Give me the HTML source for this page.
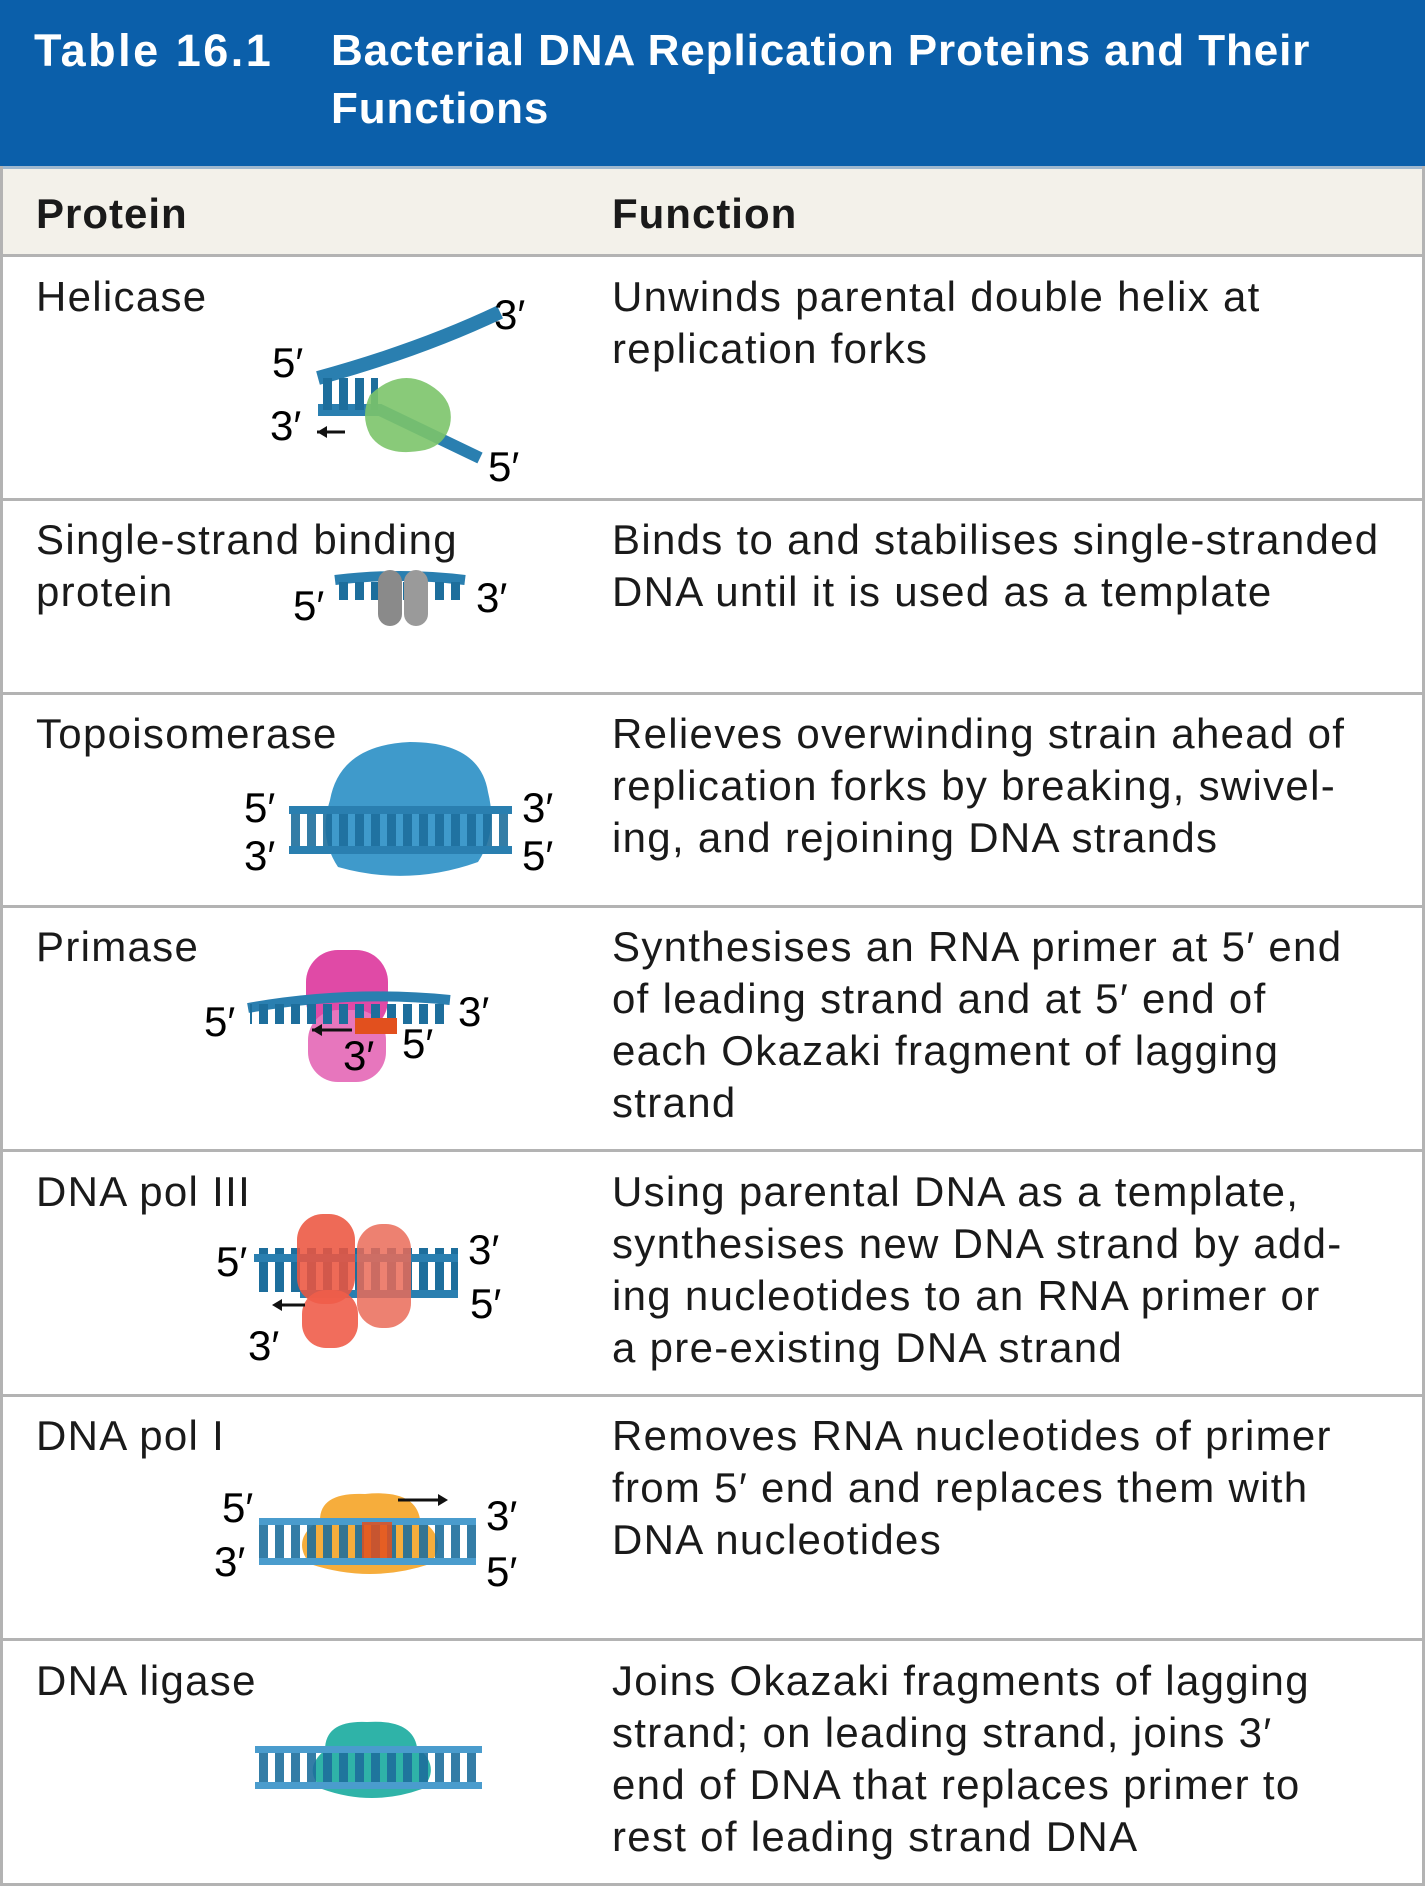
<!DOCTYPE html>
<html><head><meta charset="utf-8">
<style>
body{margin:0;width:1425px;height:1887px;background:#fff;position:relative;overflow:hidden;font-family:"Liberation Sans",sans-serif;color:#1a1a1a}
.a{position:absolute}
.t{position:absolute;font-size:42px;line-height:52px;white-space:nowrap;letter-spacing:1.3px}
.hl{position:absolute;left:0;width:1425px;height:3px;background:#b3b3b3}
</style></head><body>
<div class="a" style="left:0;top:0;width:1425px;height:166px;background:#0b5faa"></div>
<div class="a" style="left:34px;top:22px;font-size:45px;font-weight:bold;color:#fff;line-height:58px;letter-spacing:2.5px">Table 16.1</div>
<div class="a" style="left:331px;top:22px;font-size:44px;font-weight:bold;color:#fff;line-height:58px;letter-spacing:0.9px">Bacterial DNA Replication Proteins and Their<br>Functions</div>
<div class="a" style="left:0;top:166px;width:1425px;height:88px;background:#f3f1ea;border-top:3px solid #9fb8cf"></div>
<div class="t" style="left:36px;top:188px;font-weight:bold;letter-spacing:1px">Protein</div>
<div class="t" style="left:612px;top:188px;font-weight:bold;letter-spacing:1px">Function</div>
<div class="hl" style="top:254px"></div>
<div class="hl" style="top:498px"></div>
<div class="hl" style="top:692px"></div>
<div class="hl" style="top:905px"></div>
<div class="hl" style="top:1149px"></div>
<div class="hl" style="top:1394px"></div>
<div class="hl" style="top:1638px"></div>
<div class="hl" style="top:1883px"></div>
<div class="a" style="left:0;top:166px;width:3px;height:1720px;background:#b3b3b3"></div>
<div class="a" style="left:1422px;top:166px;width:3px;height:1720px;background:#b3b3b3"></div>

<div class="t" style="left:36px;top:271px">Helicase</div>
<div class="t" style="left:612px;top:271px">Unwinds parental double helix at<br>replication forks</div>
<div class="t" style="left:36px;top:514px">Single-strand binding<br>protein</div>
<div class="t" style="left:612px;top:514px">Binds to and stabilises single-stranded<br>DNA until it is used as a template</div>
<div class="t" style="left:36px;top:708px">Topoisomerase</div>
<div class="t" style="left:612px;top:708px">Relieves overwinding strain ahead of<br>replication forks by breaking, swivel-<br>ing, and rejoining DNA strands</div>
<div class="t" style="left:36px;top:921px">Primase</div>
<div class="t" style="left:612px;top:921px">Synthesises an RNA primer at 5′ end<br>of leading strand and at 5′ end of<br>each Okazaki fragment of lagging<br>strand</div>
<div class="t" style="left:36px;top:1166px">DNA pol III</div>
<div class="t" style="left:612px;top:1166px">Using parental DNA as a template,<br>synthesises new DNA strand by add-<br>ing nucleotides to an RNA primer or<br>a pre-existing DNA strand</div>
<div class="t" style="left:36px;top:1410px">DNA pol I</div>
<div class="t" style="left:612px;top:1410px">Removes RNA nucleotides of primer<br>from 5′ end and replaces them with<br>DNA nucleotides</div>
<div class="t" style="left:36px;top:1655px">DNA ligase</div>
<div class="t" style="left:612px;top:1655px">Joins Okazaki fragments of lagging<br>strand; on leading strand, joins 3′<br>end of DNA that replaces primer to<br>rest of leading strand DNA</div>

<svg class="a" style="left:0;top:0" width="1425" height="1887">
<defs>
<pattern id="rungs" width="16" height="40" patternUnits="userSpaceOnUse"><rect x="3" y="0" width="9" height="40" fill="#1d6e9c"/></pattern>
</defs>
<g>
<path d="M318 378 Q420 350 500 312" stroke="#2a7fb0" stroke-width="14" fill="none"/>
<path d="M318 410 L380 410 L480 458" stroke="#2a7fb0" stroke-width="12" fill="none"/>
<rect x="318" y="378" width="60" height="32" fill="url(#rungs)"/>
<path d="M370 395 q30 -28 60 -10 q25 15 20 40 q-5 20 -25 25 q-40 8 -55 -15 q-10 -20 0 -40z" fill="#7cc46a" opacity="0.9"/>
<path d="M345 432 l-28 0" stroke="#111" stroke-width="3"/><path d="M317 432 l10 -6 v12z" fill="#111"/>
<text x="272" y="377" font-size="42" font-family="Liberation Sans">5′</text>
<text x="270" y="440" font-size="42" font-family="Liberation Sans">3′</text>
<text x="494" y="329" font-size="42" font-family="Liberation Sans">3′</text>
<text x="488" y="481" font-size="42" font-family="Liberation Sans">5′</text>
</g>
<g>
<path d="M335 580 Q400 572 465 580" stroke="#2a7fb0" stroke-width="10" fill="none"/>
<rect x="335" y="582" width="130" height="18" fill="url(#rungs)"/>
<rect x="378" y="570" width="24" height="56" rx="12" fill="#8a8a8a"/>
<rect x="404" y="570" width="24" height="56" rx="12" fill="#9a9a9a"/>
<text x="293" y="620" font-size="42" font-family="Liberation Sans">5′</text>
<text x="476" y="612" font-size="42" font-family="Liberation Sans">3′</text>
</g>
<g>
<path d="M330 800 q10 -55 80 -58 q70 0 78 50 q10 40 -10 70 q-70 25 -140 5 q-20 -30 -8 -67z" fill="#3f9acb"/>
<rect x="289" y="810" width="223" height="40" fill="url(#rungs)" opacity="0.9"/>
<rect x="289" y="806" width="223" height="8" fill="#2a7fb0"/>
<rect x="289" y="846" width="223" height="8" fill="#2a7fb0"/>
<text x="244" y="822" font-size="42" font-family="Liberation Sans">5′</text>
<text x="244" y="870" font-size="42" font-family="Liberation Sans">3′</text>
<text x="522" y="822" font-size="42" font-family="Liberation Sans">3′</text>
<text x="522" y="870" font-size="42" font-family="Liberation Sans">5′</text>
</g>
<g>
<rect x="306" y="950" width="82" height="82" rx="32" fill="#e04aa6"/>
<rect x="308" y="1010" width="78" height="72" rx="30" fill="#e776bd"/>
<path d="M248 1008 Q350 990 450 1000" stroke="#2a7fb0" stroke-width="10" fill="none"/>
<rect x="250" y="1004" width="200" height="20" fill="url(#rungs)"/>
<rect x="355" y="1018" width="42" height="16" fill="#e2501e"/>
<path d="M352 1030 l-40 0" stroke="#111" stroke-width="3"/><path d="M312 1030 l10 -6 v12z" fill="#111"/>
<text x="204" y="1036" font-size="42" font-family="Liberation Sans">5′</text>
<text x="458" y="1026" font-size="42" font-family="Liberation Sans">3′</text>
<text x="402" y="1058" font-size="42" font-family="Liberation Sans">5′</text>
<text x="343" y="1070" font-size="42" font-family="Liberation Sans">3′</text>
</g>
<g>
<rect x="254" y="1248" width="204" height="44" fill="url(#rungs)"/>
<rect x="254" y="1254" width="204" height="8" fill="#2a7fb0"/>
<rect x="300" y="1290" width="158" height="8" fill="#2a7fb0"/>
<rect x="297" y="1214" width="58" height="90" rx="26" fill="#ec5540" opacity="0.88"/>
<rect x="302" y="1290" width="56" height="58" rx="24" fill="#ef5d4a" opacity="0.9"/>
<rect x="357" y="1224" width="54" height="104" rx="25" fill="#ea6b58" opacity="0.85"/>
<path d="M305 1305 l-30 0" stroke="#111" stroke-width="3"/><path d="M272 1305 l10 -6 v12z" fill="#111"/>
<text x="216" y="1276" font-size="42" font-family="Liberation Sans">5′</text>
<text x="468" y="1264" font-size="42" font-family="Liberation Sans">3′</text>
<text x="470" y="1318" font-size="42" font-family="Liberation Sans">5′</text>
<text x="248" y="1360" font-size="42" font-family="Liberation Sans">3′</text>
</g>
<g>
<path d="M320 1520 q0 -28 45 -26 q50 -5 55 25 q30 20 10 45 q-60 20 -120 0 q-20 -25 10 -44z" fill="#f6ad3c"/>
<rect x="259" y="1522" width="217" height="40" fill="url(#rungs)" opacity="0.9"/>
<rect x="259" y="1518" width="217" height="7" fill="#4a9ccd"/>
<rect x="259" y="1558" width="217" height="7" fill="#4a9ccd"/>
<rect x="362" y="1522" width="30" height="36" fill="#e2501e" opacity="0.85"/>
<path d="M398 1500 l40 0" stroke="#111" stroke-width="3"/><path d="M448 1500 l-10 -6 v12z" fill="#111"/>
<text x="222" y="1522" font-size="42" font-family="Liberation Sans">5′</text>
<text x="214" y="1576" font-size="42" font-family="Liberation Sans">3′</text>
<text x="486" y="1530" font-size="42" font-family="Liberation Sans">3′</text>
<text x="486" y="1586" font-size="42" font-family="Liberation Sans">5′</text>
</g>
<g>
<path d="M325 1750 q0 -30 42 -28 q45 -3 50 25 q25 20 5 42 q-50 18 -100 0 q-20 -20 3 -39z" fill="#2fb3a8"/>
<rect x="255" y="1750" width="227" height="36" fill="url(#rungs)" opacity="0.9"/>
<rect x="255" y="1746" width="227" height="7" fill="#4a9ccd"/>
<rect x="255" y="1782" width="227" height="7" fill="#4a9ccd"/>
</g>
</svg>
</body></html>
